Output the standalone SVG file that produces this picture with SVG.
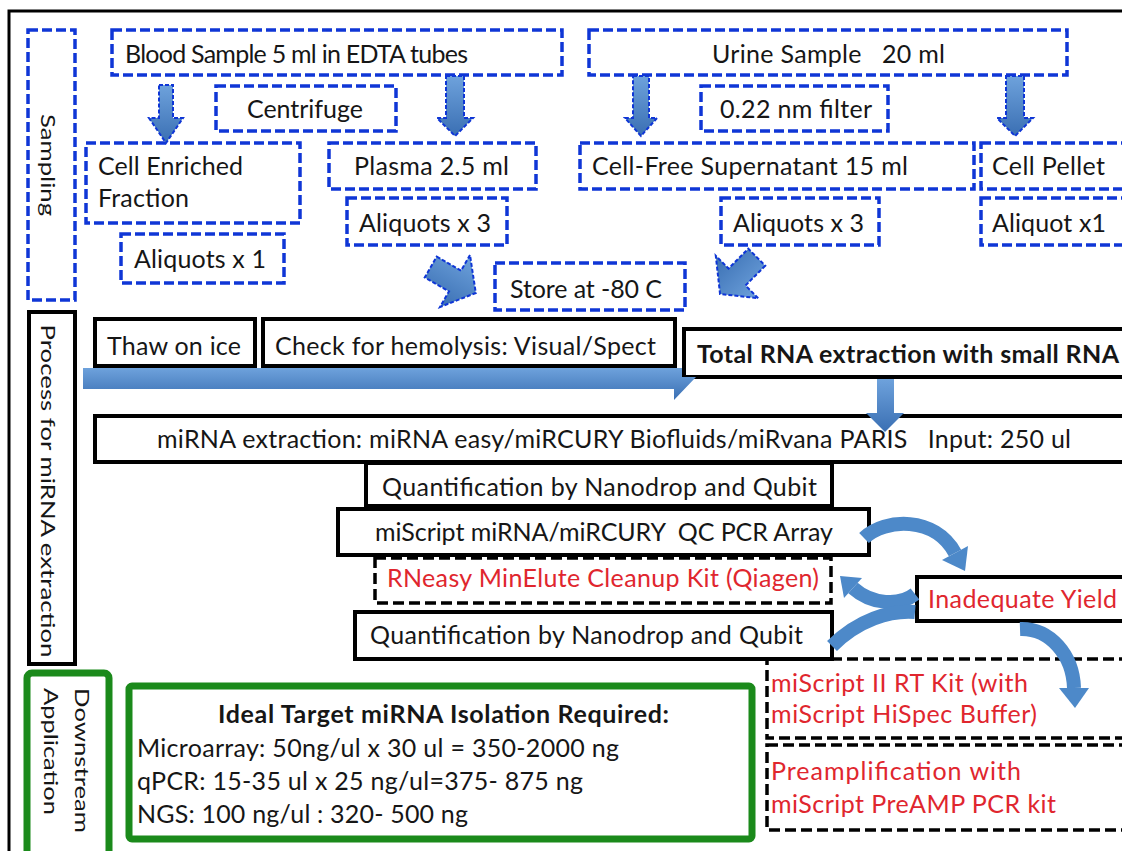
<svg xmlns="http://www.w3.org/2000/svg" width="1122" height="851" viewBox="0 0 1122 851">
<defs>
<linearGradient id="ga" x1="0" y1="0" x2="0" y2="1"><stop offset="0" stop-color="#6ea2dc"/><stop offset="1" stop-color="#3a6fb3"/></linearGradient>
<style>
.t{font-family:Lato,"Liberation Sans",sans-serif;font-size:25px;fill:#161616}
.v{font-size:20px}
.bd{fill:#fff;stroke:#0f36d6;stroke-width:3.5;stroke-dasharray:10 4}
.bk{fill:#fff;stroke:#000;stroke-width:4}
.kd{fill:none;stroke:#000;stroke-width:3.5;stroke-dasharray:11 5}
.gr{fill:#fff;stroke:#1b8a1b;stroke-width:7}
.red{fill:#e0262e}
.b{font-weight:bold}
.ar{fill:url(#ga);stroke:#0f36d6;stroke-width:2;stroke-dasharray:4 2}
.big{fill:url(#ga)}
.cv{fill:none;stroke:#4d89c9;stroke-width:14}
.hd{fill:#4d89c9}
</style>
</defs>
<rect x="0" y="0" width="1122" height="851" fill="#fff"/>
<rect x="9" y="11" width="1130" height="860" fill="none" stroke="#000" stroke-width="3"/>

<g id="sampling"><rect class="bd" x="28" y="30" width="47" height="270"/><text class="t v" transform="translate(41,165) rotate(90)" text-anchor="middle" textLength="102" lengthAdjust="spacingAndGlyphs">Sampling</text></g>
<g id="blood"><rect class="bd" x="112" y="30" width="450" height="45"/><text class="t" x="125" y="63" textLength="343">Blood Sample 5 ml in EDTA tubes</text></g>
<g id="urine"><rect class="bd" x="589" y="30" width="478" height="45"/><text class="t" x="712" y="63" textLength="233" xml:space="preserve">Urine Sample   20 ml</text></g>
<g id="centrifuge"><rect class="bd" x="216" y="86" width="180" height="45"/><text class="t" x="247" y="118" textLength="116">Centrifuge</text></g>
<g id="filter"><rect class="bd" x="701" y="86" width="187" height="45"/><text class="t" x="720" y="118" textLength="152">0.22 nm filter</text></g>
<g id="cellEnriched"><rect class="bd" x="86" y="143" width="214" height="80"/><text class="t" x="98" y="175" textLength="145">Cell Enriched</text><text class="t" x="98" y="207" textLength="91">Fraction</text></g>
<g id="plasma"><rect class="bd" x="329" y="143" width="207" height="46"/><text class="t" x="354" y="175" textLength="155">Plasma 2.5 ml</text></g>
<g id="cellFree"><rect class="bd" x="580" y="143" width="394" height="46"/><text class="t" x="592" y="175" textLength="316">Cell-Free Supernatant 15 ml</text></g>
<g id="cellPellet"><rect class="bd" x="981" y="143" width="160" height="46"/><text class="t" x="992" y="175" textLength="113">Cell Pellet</text></g>
<g id="aliq3L"><rect class="bd" x="347" y="198" width="160" height="47"/><text class="t" x="359" y="232" textLength="132">Aliquots x 3</text></g>
<g id="aliq1"><rect class="bd" x="121" y="234" width="163" height="49"/><text class="t" x="134" y="268" textLength="132">Aliquots x 1</text></g>
<g id="aliq3R"><rect class="bd" x="721" y="198" width="158" height="47"/><text class="t" x="733" y="232" textLength="131">Aliquots x 3</text></g>
<g id="aliqP"><rect class="bd" x="981" y="198" width="160" height="47"/><text class="t" x="992" y="232" textLength="114">Aliquot x1</text></g>
<g id="store"><rect class="bd" x="495" y="263" width="190" height="47"/><text class="t" x="510" y="298" textLength="152">Store at -80 C</text></g>

<g id="process"><rect class="bk" x="29" y="312" width="46" height="352"/><text class="t v" transform="translate(41,491) rotate(90)" text-anchor="middle" textLength="333" lengthAdjust="spacingAndGlyphs">Process for miRNA extraction</text></g>
<g id="thaw"><rect class="bk" x="95" y="319" width="160" height="47"/><text class="t" x="107" y="355" textLength="134">Thaw on ice</text></g>
<g id="check"><rect class="bk" x="263" y="319" width="412" height="47"/><text class="t" x="275" y="355" textLength="381">Check for hemolysis: Visual/Spect</text></g>
<g id="totalRNA"><rect class="bk" x="684" y="329" width="460" height="48"/><text class="t b" x="697" y="363" textLength="422">Total RNA extraction with small RNA</text></g>
<g id="mirnaExtraction"><rect class="bk" x="95" y="416" width="1050" height="46"/><text class="t" x="157" y="448" textLength="914" xml:space="preserve">miRNA extraction: miRNA easy/miRCURY Biofluids/miRvana PARIS   Input: 250 ul</text></g>
<g id="quant1"><rect class="bk" x="366" y="463" width="466" height="43"/><text class="t" x="382" y="496" textLength="435">Quantification by Nanodrop and Qubit</text></g>
<g id="qcArray"><rect class="bk" x="338" y="509" width="531" height="46"/><text class="t" x="375" y="541" textLength="458" xml:space="preserve">miScript miRNA/miRCURY  QC PCR Array</text></g>
<g id="rneasy"><rect class="kd" x="375" y="558" width="456" height="45"/><text class="t red" x="387" y="587" textLength="432">RNeasy MinElute Cleanup Kit (Qiagen)</text></g>
<g id="quant2"><rect class="bk" x="355" y="612" width="477" height="47"/><text class="t" x="370" y="644" textLength="433">Quantification by Nanodrop and Qubit</text></g>
<g id="inadequate"><rect class="bk" x="917" y="577" width="220" height="44"/><text class="t red" x="928" y="608" textLength="189">Inadequate Yield</text></g>
<g id="rtKit"><rect class="kd" x="767" y="659" width="380" height="79"/><text class="t red" x="771" y="692" textLength="257">miScript II RT Kit (with</text><text class="t red" x="771" y="723" textLength="266">miScript HiSpec Buffer)</text></g>
<g id="preamp"><rect class="kd" x="767" y="745" width="380" height="85"/><text class="t red" x="771" y="780" textLength="250">Preamplification with</text><text class="t red" x="771" y="813" textLength="285">miScript PreAMP PCR kit</text></g>

<g id="downstream"><rect class="gr" x="27" y="673" width="82" height="200" rx="5"/><text class="t v" transform="translate(75,688) rotate(90)" textLength="145" lengthAdjust="spacingAndGlyphs">Downstream</text><text class="t v" transform="translate(44,688) rotate(90)" textLength="127" lengthAdjust="spacingAndGlyphs">Application</text></g>
<g id="idealTarget"><rect class="gr" x="129" y="686" width="623" height="153" rx="3"/><text class="t b" x="218" y="723" textLength="451">Ideal Target miRNA Isolation Required:</text><text class="t" x="137" y="757" textLength="482">Microarray: 50ng/ul x 30 ul = 350-2000 ng</text><text class="t" x="137" y="790" textLength="446">qPCR: 15-35 ul x 25 ng/ul=375- 875 ng</text><text class="t" x="137" y="823" textLength="331">NGS: 100 ng/ul : 320- 500 ng</text></g>

<g id="connectors">
<polygon class="ar" points="159,85 173,85 173,118 183,118 166,143 149,118 159,118"/>
<polygon class="ar" points="446,76 464,76 464,118 473,118 455,136 437,118 446,118"/>
<polygon class="ar" points="633,76 649,76 649,118 657,118 641,136 625,118 633,118"/>
<polygon class="ar" points="1006,76 1024,76 1024,118 1033,118 1015,136 997,118 1006,118"/>
<polygon class="ar" transform="translate(455,281) rotate(30)" points="-28,-12 0,-12 0,-30 24,0 0,30 0,12 -28,12"/>
<polygon class="ar" transform="translate(737,277) rotate(135)" points="-28,-12 0,-12 0,-30 24,0 0,30 0,12 -28,12"/>
<polygon class="big" points="83,368 682,368 682,377 696,377 674,400 674,389 83,389"/>
<polygon class="big" points="877,379 894,379 894,413 904,413 885,432 866,413 877,413"/>
<path class="cv" d="M864 538 C885 518 935 516 955 553"/>
<polygon class="hd" points="968,546 942,560 965,571"/>
<path class="cv" d="M915 594 C900 606 872 605 853 588"/>
<polygon class="hd" points="862,578 844,598 840,576"/>
<path class="cv" d="M832 646 C858 620 890 610 915 612"/>
<path class="cv" d="M1020 629 C1050 628 1073 655 1074 688"/>
<polygon class="hd" points="1089,688 1059,688 1075,708"/>
</g>
</svg>
